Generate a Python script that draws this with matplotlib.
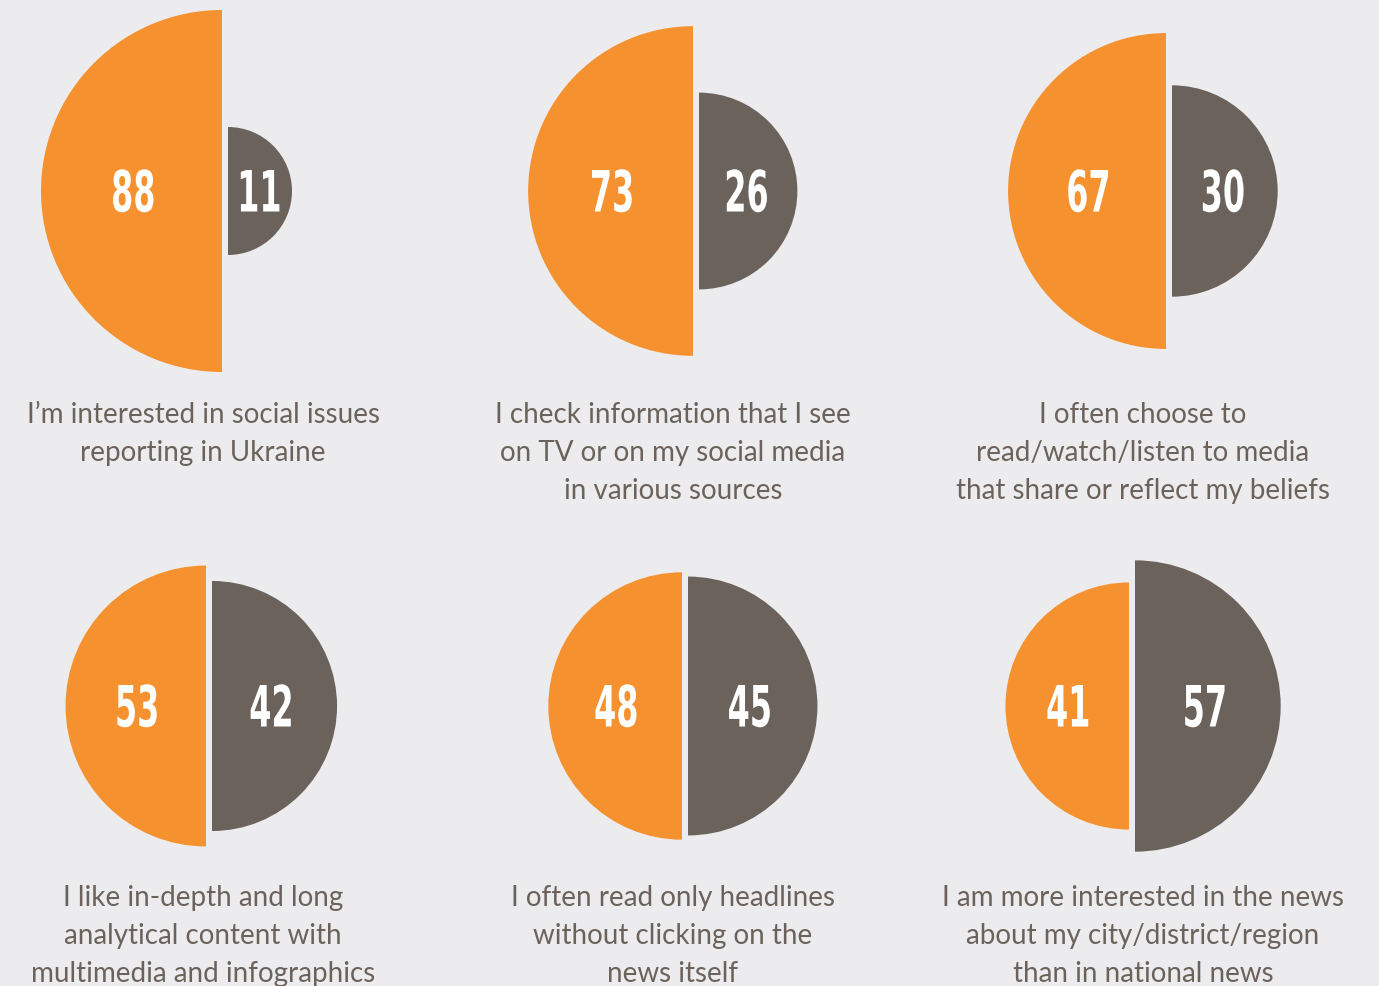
import matplotlib
matplotlib.use("Agg")
import matplotlib.pyplot as plt
from matplotlib.patches import Wedge
from matplotlib.patheffects import AbstractPathEffect
from matplotlib.transforms import Affine2D
import numpy as np

# share of respondents who agree / disagree
agree = [88, 73, 67, 53, 48, 41]
disagree = [11, 26, 30, 42, 45, 57]
statements = [
    "I\u2019m interested in social issues\nreporting in Ukraine",
    "I check information that I see\non TV or on my social media\nin various sources",
    "I often choose to\nread/watch/listen to media\nthat share or reflect my beliefs",
    "I like in-depth and long\nanalytical content with\nmultimedia and infographics",
    "I often read only headlines\nwithout clicking on the\nnews itself",
    "I am more interested in the news\nabout my city/district/region\nthan in national news",
]

ORANGE = "#F5922F"
GREY = "#6B635B"
BG = "#ECECEE"

# layout in pixels
W, H = 1379, 987
split_x = [225, 696, 1169, 209, 685, 1132]
center_y = [192, 192, 192, 707, 707, 707]
label_x = [203, 673, 1143, 203, 673, 1143]
label_y = [402, 402, 402, 885, 885, 885]
gap = 3
k = 181 / np.sqrt(88)  # radius per sqrt(percent): area ~ value


class Squeeze(AbstractPathEffect):
    """draw the text narrower (condensed look) around its own centre"""
    def __init__(self, sx):
        super().__init__()
        self.sx = sx

    def draw_path(self, renderer, gc, tpath, affine, rgbFace=None):
        ext = tpath.get_extents(affine)
        cx = 0.5 * (ext.x0 + ext.x1)
        squeeze = Affine2D().translate(-cx, 0).scale(self.sx, 1).translate(cx, 0)
        renderer.draw_path(gc, tpath, affine + squeeze, rgbFace)


fig = plt.figure(figsize=(W / 100, H / 100), dpi=100, facecolor=BG)
ax = fig.add_axes([0, 0, 1, 1])
ax.set_xlim(0, W)
ax.set_ylim(H, 0)
ax.set_aspect("equal")
ax.axis("off")
ax.set_facecolor(BG)

num_font = dict(family="DejaVu Sans", fontweight="bold", fontsize=41, color="white",
                ha="center", va="center", path_effects=[Squeeze(0.56)])

for i in range(6):
    cx, cy = split_x[i], center_y[i]
    ra = k * np.sqrt(agree[i])
    rd = k * np.sqrt(disagree[i])
    # y axis is inverted, so angles go clockwise on screen
    ax.add_patch(Wedge((cx - gap, cy), ra, 90, 270, facecolor=ORANGE, edgecolor="none"))
    ax.add_patch(Wedge((cx + gap, cy), rd, -90, 90, facecolor=GREY, edgecolor="none"))
    ax.text(cx - gap - 0.49 * ra, cy + 5, str(agree[i]), **num_font)
    ax.text(cx + gap + 0.48 * rd, cy + 5, str(disagree[i]), **num_font)
    ax.text(label_x[i], label_y[i], statements[i], family="Lato", fontsize=20,
            color=GREY, ha="center", va="top", linespacing=1.57)

fig.savefig("out.png", dpi=100, facecolor=BG)
